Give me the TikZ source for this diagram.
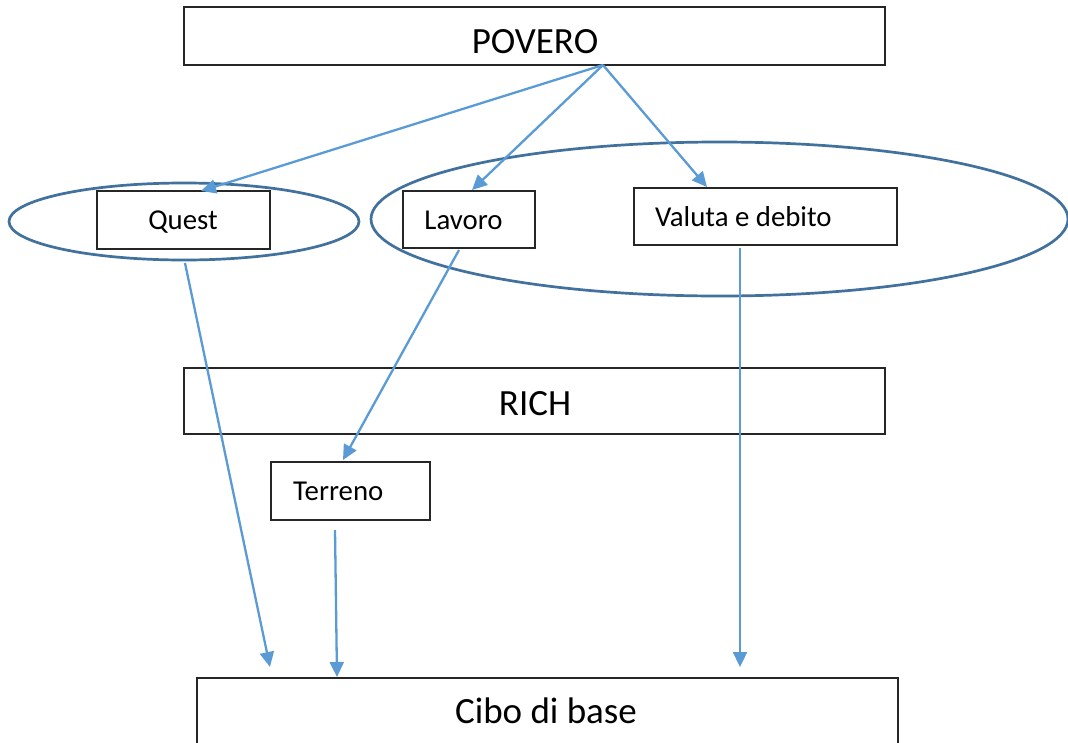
\documentclass[tikz,border=0pt]{standalone}
\usepackage{fontspec}
\setmainfont{Carlito}
\usetikzlibrary{arrows.meta,calc}
\definecolor{arrowblue}{HTML}{5B9BD5}
\definecolor{ellblue}{HTML}{41719C}
\begin{document}
\begin{tikzpicture}[x=1pt,y=-1pt,
  box/.style={draw=black!85,line width=1.3pt,rectangle,inner sep=0pt},
  bigtxt/.style={font=\fontsize{37}{40}\selectfont,inner sep=0pt,anchor=base},
  smalltxt/.style={font=\fontsize{28.8}{32}\selectfont,inner sep=0pt,anchor=base},
  conn/.style={draw=arrowblue,line width=2.3pt,-{Triangle[length=15pt,width=14pt]}},
  oval/.style={draw=ellblue,line width=2.7pt}]
\useasboundingbox (0,0) rectangle (1068,742);
\fill[white] (0,0) rectangle (1068,742);
\begin{scope}
\clip (0,0) rectangle (1068,742);
% ellipses
\draw[oval] (184,221.5) ellipse [x radius=175, y radius=38.5];
\draw[oval] (719.5,219) ellipse [x radius=348.5, y radius=77];
% boxes
\node[box,minimum width=701pt,minimum height=58pt] (povero) at (534.5,36) {};
\node[bigtxt] (poverot) at (535,53) {POVERO};
\node[box,minimum width=701pt,minimum height=66pt] (rich) at (534.5,401) {};
\node[bigtxt] (richt) at (535,415) {RICH};
\node[box,minimum width=701pt,minimum height=100pt] (cibo) at (547.5,728) {};
\node[bigtxt] (cibot) at (546,723) {Cibo di base};
\node[box,minimum width=173pt,minimum height=58pt] (quest) at (183.5,220) {};
\node[smalltxt] (questt) at (183,229) {Quest};
\node[box,minimum width=132pt,minimum height=57pt] (lavoro) at (469,219.5) {};
\node[smalltxt] (lavorot) at (463.5,229) {Lavoro};
\node[box,minimum width=263pt,minimum height=57pt] (valuta) at (765.5,216.5) {};
\node[smalltxt,anchor=base west] (valutat) at (655,226) {Valuta e debito};
\node[box,minimum width=159pt,minimum height=58pt] (terreno) at (350.5,491) {};
\node[smalltxt,anchor=base west] (terrenot) at (293,500) {Terreno};
% connector coordinates
\coordinate (pstart) at (603,65);
\coordinate (qend) at (201,191);
\coordinate (lend) at (472,190);
\coordinate (vend) at (707,187);
\coordinate (qstart) at (185,263);
\coordinate (qdown) at (270,667);
\coordinate (lstart) at (459,250);
\coordinate (tend) at (343,460);
\coordinate (vstart) at (740,248);
\coordinate (vdown) at (740,667);
\coordinate (tstart) at (335,530);
\coordinate (cend) at (337,677);
% connectors
\draw[conn] (pstart) -- (qend);
\draw[conn] (pstart) -- (lend);
\draw[conn] (pstart) -- (vend);
\draw[conn] (qstart) -- (qdown);
\draw[conn] (lstart) -- (tend);
\draw[conn] (vstart) -- (vdown);
\draw[conn] (tstart) -- (cend);
\end{scope}
\end{tikzpicture}
\end{document}
